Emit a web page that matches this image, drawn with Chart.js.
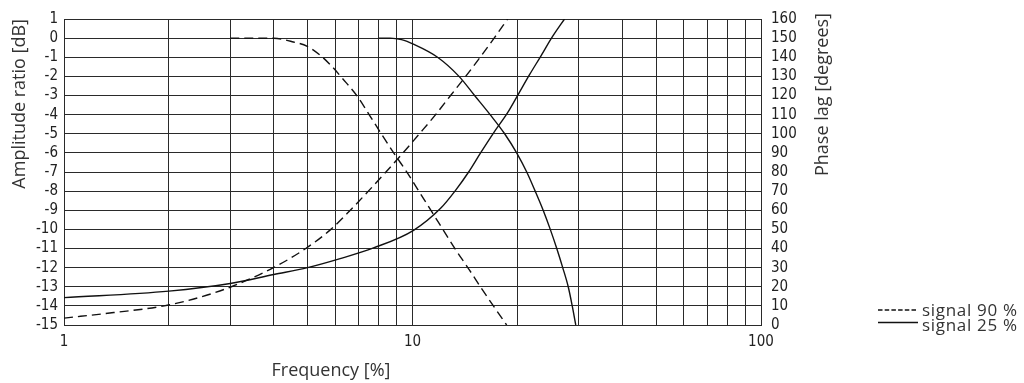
<!DOCTYPE html>
<html><head><meta charset="utf-8">
<script src="https://cdn.jsdelivr.net/npm/chart.js@4/dist/chart.umd.min.js"></script>
<style>html,body{margin:0;padding:0;background:#fff;overflow:hidden}</style>
</head><body>
<canvas id="c" width="1024" height="383"></canvas>
<script>
// ---- tick values / labels ----
const freqGrid = [1,2,3,4,5,6,7,8,9,10,20,30,40,50,60,70,80,90,100];
const freqLabels = [1,10,100];
const ampTicks = [1,0,-1,-2,-3,-4,-5,-6,-7,-8,-9,-10,-11,-12,-13,-14,-15];
const phaseTicks = [160,150,140,130,120,110,100,90,80,70,60,50,40,30,20,10,0];

// ---- series: amplitude ratio [dB] (left axis) ----
const amp90Freq = [3.0, 4.0, 4.55, 4.99, 5.44, 5.85, 6.29, 6.95, 7.57, 8.20, 8.91, 9.71, 10.51, 11.38, 12.32, 13.34, 14.54, 15.79, 17.21, 18.63];
const amp90     = [0, -0.01, -0.2, -0.43, -0.9, -1.45, -2.1, -3.05, -4.1, -5.1, -6.1, -7.1, -8.1, -9.1, -10.1, -11.1, -12.1, -13.1, -14.1, -15];
const amp25Freq = [8.0, 8.62, 9.30, 10.10, 11.80, 13.60, 15.07, 16.70, 18.38, 19.90, 21.27, 22.49, 23.71, 24.85, 25.94, 26.98, 27.98, 28.73, 29.41];
const amp25     = [0, 0, -0.08, -0.33, -1, -2, -3, -4, -5, -6, -7, -8, -9, -10, -11, -12, -13, -14, -15];

// ---- series: phase lag [degrees] (right axis) ----
const phase90Freq = [1, 1.39, 1.94, 2.43, 3.02, 3.99, 4.94, 5.83, 6.63, 7.47, 8.39, 9.39, 10.47, 11.65, 12.86, 14.21, 15.63, 17.15, 18.75];
const phase90     = [3.6, 6.5, 10, 14.3, 20, 30, 40, 50, 60, 70, 80, 90, 100, 110, 120, 130, 140, 150, 160];
const phase25Freq = [1, 2, 3, 4, 5, 6.2, 7.73, 10.07, 12.04, 13.29, 14.49, 15.68, 17.09, 18.75, 20.17, 21.69, 23.33, 25.26, 27.3];
const phase25     = [14.3, 17.7, 21.7, 26.4, 30, 34.7, 40.3, 49.5, 61, 70.4, 80, 90, 100.5, 111, 121, 131, 140.5, 151, 160];

const seriesNames = ['signal 90 %', 'signal 25 %'];

const pts = (xs, ys) => xs.map((x, i) => ({x: x, y: ys[i]}));
const INK = '#111';
const TXT = '#333';
const tickFont = {family: "'Liberation Sans Narrow','Arial Narrow','DejaVu Sans Condensed',sans-serif", size: 15};
const titleFont = {family: "'Open Sans','Noto Sans',sans-serif", size: 18};

const base = {borderColor: INK, borderWidth: 1.4, pointRadius: 0, fill: false, cubicInterpolationMode: 'monotone'};

const extras = {
  id: 'extras',
  afterDraw(chart) {
    const ctx = chart.ctx;
    ctx.save();
    ctx.fillStyle = TXT;
    ctx.font = titleFont.size + 'px ' + titleFont.family;
    // x-axis title
    ctx.textAlign = 'center';
    ctx.textBaseline = 'middle';
    ctx.fillText('Frequency [%]', 331, 371);
    // right axis title (reads bottom-to-top)
    ctx.save();
    ctx.translate(823, 13);
    ctx.rotate(-Math.PI / 2);
    ctx.textAlign = 'right';
    ctx.textBaseline = 'middle';
    ctx.fillText('Phase lag [degrees]', 0, 0);
    ctx.restore();
    // legend
    ctx.font = "17px 'Open Sans','Noto Sans',sans-serif";
    if ('letterSpacing' in ctx) ctx.letterSpacing = '0.7px';
    const items = [{y: 310, base: 316, dash: [4.5, 2.2]}, {y: 322.5, base: 330.5, dash: []}];
    items.forEach((it, i) => {
      ctx.strokeStyle = INK;
      ctx.lineWidth = 1.3;
      ctx.setLineDash(it.dash);
      ctx.beginPath();
      ctx.moveTo(878, it.y);
      ctx.lineTo(918, it.y);
      ctx.stroke();
      ctx.setLineDash([]);
      ctx.textAlign = 'left';
      ctx.textBaseline = 'alphabetic';
      ctx.fillText(seriesNames[i], 922, it.base);
    });
    ctx.restore();
  }
};

new Chart(document.getElementById('c'), {
  type: 'line',
  data: {
    datasets: [
      Object.assign({label: seriesNames[0] + ' amplitude', data: pts(amp90Freq, amp90), yAxisID: 'y', borderDash: [9, 5]}, base),
      Object.assign({label: seriesNames[1] + ' amplitude', data: pts(amp25Freq, amp25), yAxisID: 'y'}, base),
      Object.assign({label: seriesNames[0] + ' phase', data: pts(phase90Freq, phase90), yAxisID: 'y2', borderDash: [9, 5]}, base),
      Object.assign({label: seriesNames[1] + ' phase', data: pts(phase25Freq, phase25), yAxisID: 'y2'}, base)
    ]
  },
  options: {
    responsive: false,
    devicePixelRatio: 1,
    animation: false,
    layout: {padding: {top: 16, left: 0, right: 0, bottom: 0}},
    plugins: {legend: {display: false}, tooltip: {enabled: false}},
    scales: {
      x: {
        type: 'logarithmic', min: 1, max: 100, position: 'bottom',
        afterBuildTicks: s => { s.ticks = freqGrid.map(v => ({value: v})); },
        afterFit: s => { s.height = 58; },
        grid: {color: '#2a2a2a', lineWidth: 1, drawTicks: false},
        border: {display: true, color: '#2a2a2a'},
        ticks: {autoSkip: false, maxRotation: 0, padding: 8, color: '#222', font: tickFont,
          callback: v => freqLabels.includes(v) ? String(v) : ''}
      },
      y: {
        type: 'linear', min: -15, max: 1, position: 'left',
        afterBuildTicks: s => { s.ticks = ampTicks.map(v => ({value: v})); },
        afterFit: s => { s.width = 64; },
        grid: {color: '#2a2a2a', lineWidth: 1, drawTicks: false},
        border: {display: true, color: '#2a2a2a'},
        ticks: {autoSkip: false, padding: 6, color: '#222', font: tickFont, callback: v => String(v)},
        title: {display: true, text: 'Amplitude ratio [dB]', align: 'end', color: TXT, font: titleFont, padding: {top: 9, bottom: 0}}
      },
      y2: {
        type: 'linear', min: 0, max: 160, position: 'right',
        afterBuildTicks: s => { s.ticks = phaseTicks.map(v => ({value: v})); },
        afterFit: s => { s.width = 263; },
        grid: {display: false, drawTicks: false},
        border: {display: true, color: '#2a2a2a'},
        ticks: {autoSkip: false, padding: 10, color: '#222', font: tickFont, callback: v => String(v)}
      }
    }
  },
  plugins: [extras]
});
</script>
</body></html>
